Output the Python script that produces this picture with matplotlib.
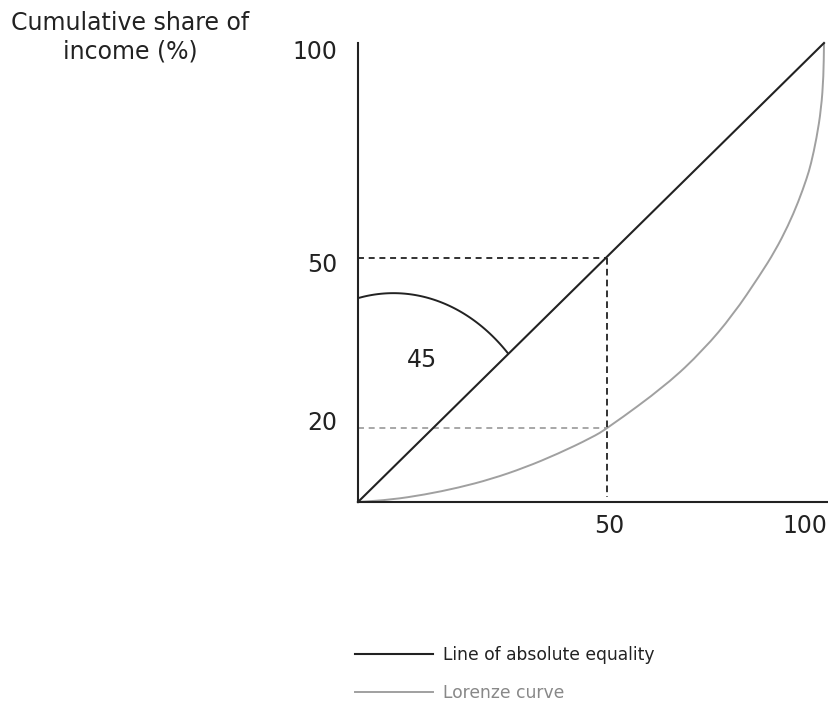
import matplotlib
matplotlib.use("Agg")
import matplotlib.pyplot as plt
from matplotlib.path import Path
from matplotlib.patches import PathPatch
from matplotlib.lines import Line2D
import numpy as np

plt.rcParams['font.family'] = ['DejaVu Sans']
plt.rcParams['lines.scale_dashes'] = False

# ---- data ----
equality_x = [0, 100]
equality_y = [0, 100]

lorenz_x = [0, 7.1, 14.3, 21.5, 28.6, 35.8, 42.9, 50.1, 53.6, 66.2, 74.1,
            80.5, 86.3, 89.5, 92.3, 94.5, 96.3, 97.2, 98.4, 99.4, 99.9, 100]
lorenz_y = [0, 0.5, 1.6, 3.1, 5.0, 7.5, 10.5, 14.0, 16.1, 25.5, 33.1,
            40.8, 49.5, 54.7, 60.2, 65.4, 70.5, 73.6, 79.2, 85.7, 92.7, 100]

mark_x = 53.4        # "50" on the population axis
mark_y = 53.2        # "50" on the income axis
lorenz_mark_y = 16.1 # "20" on the income axis

x_tick_labels = ["50", "100"]
y_tick_labels = ["20", "50", "100"]
angle_label = "45"
series_labels = ["Line of absolute equality", "Lorenze curve"]

# ---- colours ----
DARK = "#222222"
GRAY = "#a0a0a0"
GRAY_TXT = "#888888"

fig = plt.figure(figsize=(8.29, 7.09), dpi=100)
ax = fig.add_axes([358 / 829, 207 / 709, 470 / 829, 459 / 709])
ax.set_xlim(0, 100.86)
ax.set_ylim(0, 100)
for s in ["top", "right"]:
    ax.spines[s].set_visible(False)
for s in ["left", "bottom"]:
    ax.spines[s].set_linewidth(1.5)
    ax.spines[s].set_color(DARK)
ax.set_xticks([])
ax.set_yticks([])

# dashed guide lines
ax.plot([0, mark_x], [mark_y, mark_y], color=DARK, lw=1.3, dashes=(4.3, 3.4))
ax.plot([mark_x, mark_x], [mark_y, 1.1], color=DARK, lw=1.3, dashes=(4.8, 3.0))
ax.plot([0, mark_x], [lorenz_mark_y, lorenz_mark_y], color=GRAY, lw=1.3, dashes=(4.3, 3.4))

# equality line
l1, = ax.plot(equality_x, equality_y, color=DARK, lw=1.5, clip_on=False,
              label=series_labels[0])

# Lorenz curve: smooth quadratic Bezier chain through the read points
pts = np.column_stack([lorenz_x, lorenz_y])
mids = (pts[:-1] + pts[1:]) / 2
verts = [pts[0], mids[0]]
codes = [Path.MOVETO, Path.LINETO]
for i in range(1, len(pts) - 1):
    verts += [pts[i], mids[i]]
    codes += [Path.CURVE3, Path.CURVE3]
verts.append(pts[-1])
codes.append(Path.LINETO)
ax.add_patch(PathPatch(Path(verts, codes), facecolor="none", edgecolor=GRAY,
                       lw=1.4, clip_on=False))
l2 = Line2D([], [], color=GRAY, lw=1.4, label=series_labels[1])

# 45 degree arc
t = np.radians(np.linspace(45.6, 101.9, 80))
ax.plot(7.6 + 35 * np.cos(t), 0 + 45.5 * np.sin(t), color=DARK, lw=1.4)
ax.text(13.7, 30.9, angle_label, fontsize=17, color=DARK, ha="center", va="center")

# tick labels
ax.text(53.9, -5.2, x_tick_labels[0], fontsize=17, color=DARK, ha="center", va="center")
ax.text(95.9, -5.2, x_tick_labels[1], fontsize=17, color=DARK, ha="center", va="center")
ax.text(-4.5, 17.2, y_tick_labels[0], fontsize=17, color=DARK, ha="right", va="center")
ax.text(-4.5, 51.6, y_tick_labels[1], fontsize=17, color=DARK, ha="right", va="center")
ax.text(-4.5, 98.0, y_tick_labels[2], fontsize=17, color=DARK, ha="right", va="center")

# axis title
fig.text(130 / 829, 1 - 37 / 709, "Cumulative share of\nincome (%)", fontsize=17,
         color=DARK, ha="center", va="center", multialignment="center", linespacing=1.25)

# legend
leg = ax.legend(handles=[l1, l2], loc="upper left",
                bbox_to_anchor=(355 / 829, 1 - 646 / 709), bbox_transform=fig.transFigure,
                frameon=False, fontsize=12.3, handlelength=4.55, handletextpad=0.6,
                labelspacing=1.18, borderpad=0, borderaxespad=0)
leg.get_texts()[0].set_color(DARK)
leg.get_texts()[1].set_color(GRAY_TXT)

fig.savefig("out.png", dpi=100)
